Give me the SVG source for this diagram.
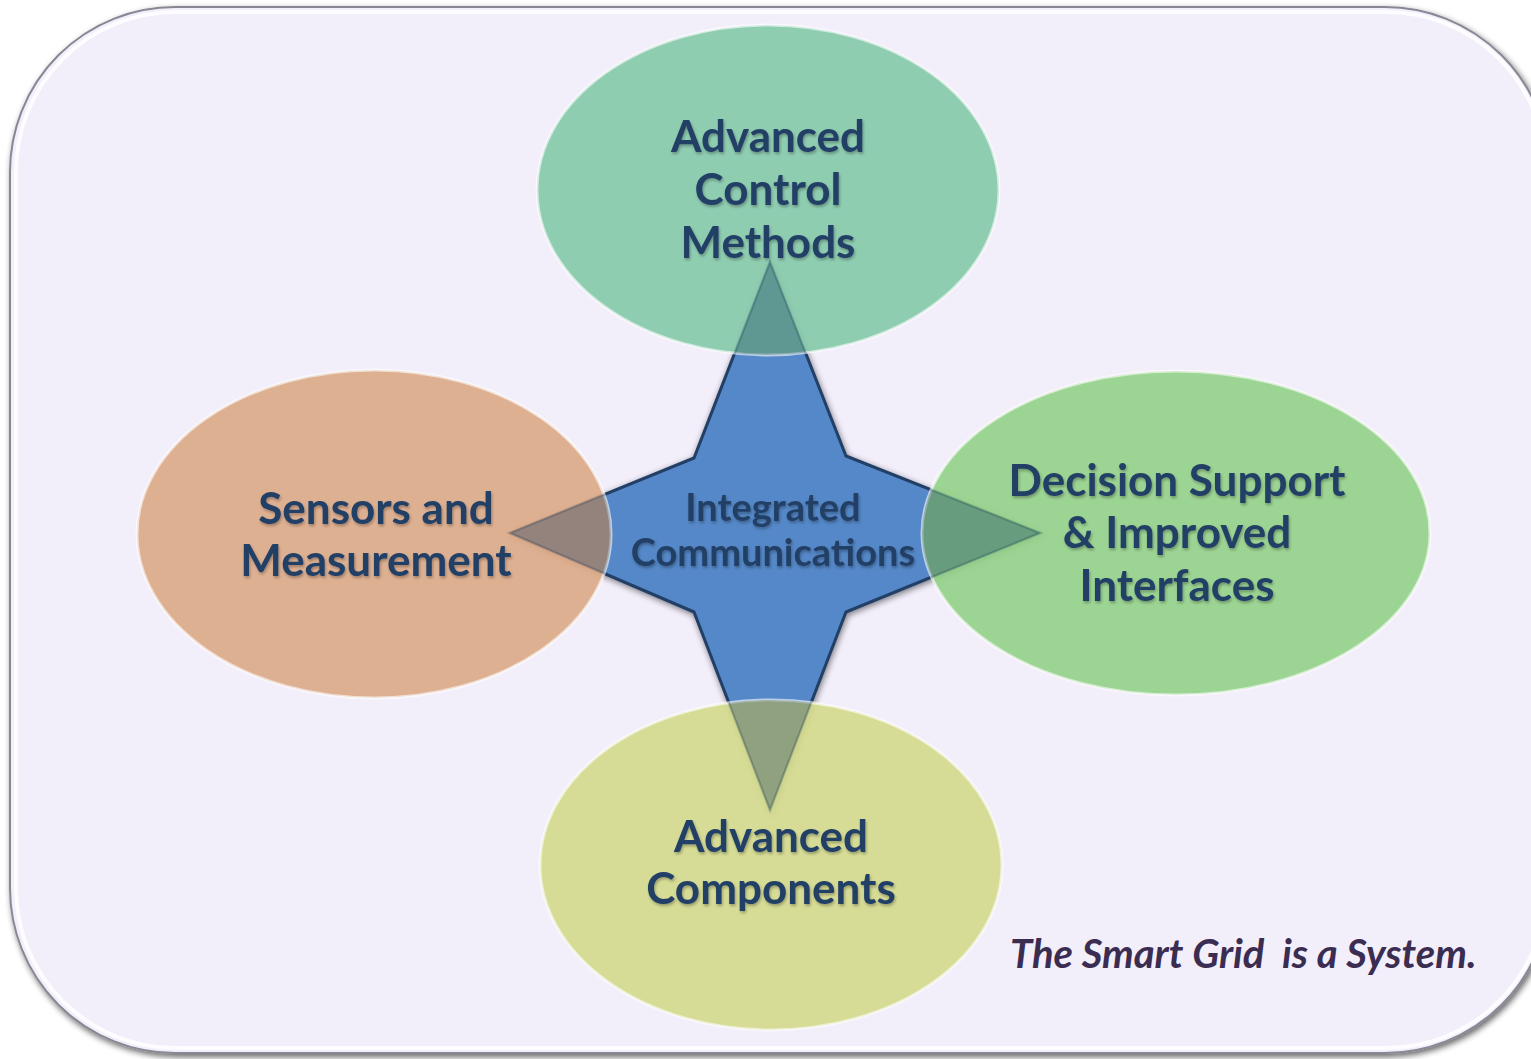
<svg xmlns="http://www.w3.org/2000/svg" width="1531" height="1059" viewBox="0 0 1531 1059">
<defs>
<style>
.lbl{font-family:Lato,"Open Sans","Liberation Sans",sans-serif;font-weight:bold;fill:#243f66;text-anchor:middle;filter:url(#tsh)}
.big{font-size:44px}
.mid{font-size:38px}
.cap{font-family:Lato,"Open Sans","Liberation Sans",sans-serif;font-weight:bold;font-style:italic;font-size:40px;fill:#3b2d52;white-space:pre}
.node{stroke:#ffffff;stroke-opacity:0.6;stroke-width:3}
</style>
<filter id="bsh" x="-5%" y="-5%" width="110%" height="110%">
<feGaussianBlur in="SourceAlpha" stdDeviation="3"/>
<feOffset dx="2" dy="3"/>
<feComponentTransfer><feFuncA type="linear" slope="0.6"/></feComponentTransfer>
<feMerge><feMergeNode/><feMergeNode in="SourceGraphic"/></feMerge>
</filter>
<filter id="tsh" x="-10%" y="-20%" width="120%" height="150%">
<feGaussianBlur in="SourceAlpha" stdDeviation="1.5"/>
<feOffset dx="1" dy="2"/>
<feComponentTransfer><feFuncA type="linear" slope="0.3"/></feComponentTransfer>
<feMerge><feMergeNode/><feMergeNode in="SourceGraphic"/></feMerge>
</filter>
<filter id="ssh" x="-10%" y="-10%" width="120%" height="120%">
<feGaussianBlur in="SourceAlpha" stdDeviation="3"/>
<feOffset dx="1" dy="2"/>
<feComponentTransfer><feFuncA type="linear" slope="0.5"/></feComponentTransfer>
<feMerge><feMergeNode/><feMergeNode in="SourceGraphic"/></feMerge>
</filter>
<clipPath id="ellclip">
<ellipse cx="768" cy="190" rx="231" ry="165"/>
<ellipse cx="374" cy="534" rx="237" ry="164"/>
<ellipse cx="1176" cy="533" rx="254" ry="162"/>
<ellipse cx="771" cy="865" rx="231" ry="165"/>
</clipPath>
<path id="starShape" d="M770,262 L846,456 L1040,533 L846,612 L770,810 L694,612 L510,533 L694,458 Z"/>
</defs>
<rect width="1531" height="1059" fill="#ffffff"/>
<g id="panel">
<rect x="10" y="7" width="1540" height="1046" rx="165" ry="165" fill="#f2eefa" stroke="#8a8794" stroke-width="2" filter="url(#bsh)"/>
<rect x="16" y="12" width="1530" height="1036" rx="160" ry="160" fill="none" stroke="#ffffff" stroke-width="4" stroke-opacity="0.8"/>
</g>
<g id="star">
<use href="#starShape" fill="#5588c8" stroke="#243f66" stroke-width="3" filter="url(#ssh)"/>
</g>
<g id="node-top">
<ellipse class="node" cx="768" cy="190" rx="231" ry="165" fill="#84c9a8" fill-opacity="0.9"/>
</g>
<g id="node-left">
<ellipse class="node" cx="374" cy="534" rx="237" ry="164" fill="#dca986" fill-opacity="0.9"/>
</g>
<g id="node-right">
<ellipse class="node" cx="1176" cy="533" rx="254" ry="162" fill="#92d087" fill-opacity="0.9"/>
</g>
<g id="node-bottom">
<ellipse class="node" cx="771" cy="865" rx="231" ry="165" fill="#d3d98a" fill-opacity="0.9"/>
</g>
<g id="star-overlap" clip-path="url(#ellclip)">
<use href="#starShape" fill="#1f3f5f" fill-opacity="0.33" stroke="#1f3f5f" stroke-opacity="0.3" stroke-width="2"/>
</g>
<g id="labels">
<text class="lbl big" x="768" y="152">Advanced</text>
<text class="lbl big" x="768" y="205">Control</text>
<text class="lbl big" x="768" y="258">Methods</text>
<text class="lbl big" x="376" y="524">Sensors and</text>
<text class="lbl big" x="376" y="576">Measurement</text>
<text class="lbl big" x="1177" y="496">Decision Support</text>
<text class="lbl big" x="1177" y="548">&amp; Improved</text>
<text class="lbl big" x="1177" y="601">Interfaces</text>
<text class="lbl big" x="771" y="852">Advanced</text>
<text class="lbl big" x="771" y="904">Components</text>
<text class="lbl mid" x="773" y="521">Integrated</text>
<text class="lbl mid" x="773" y="566">Communications</text>
<text class="cap" x="1010" y="968">The Smart Grid  is a System.</text>
</g>
</svg>
